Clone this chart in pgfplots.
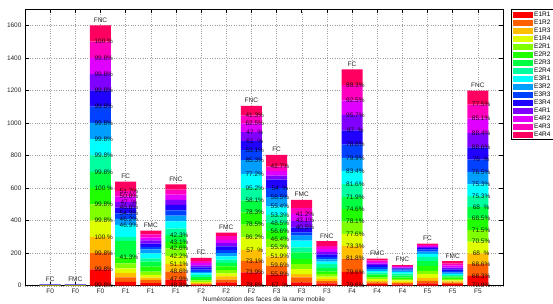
\documentclass[border=0pt]{standalone}
\usepackage{fontspec}
\setmainfont{Liberation Sans}
\usepackage{pgfplots}
\usepackage{pgfplotstable}
\pgfplotsset{compat=1.18}
\protected\def\NoL{}
\protected\def\PadS{\kern0.28em}
\definecolor{c1}{HTML}{FF0000}
\definecolor{c2}{HTML}{FF6000}
\definecolor{c3}{HTML}{FFBF00}
\definecolor{c4}{HTML}{DFFF00}
\definecolor{c5}{HTML}{80FF00}
\definecolor{c6}{HTML}{20FF00}
\definecolor{c7}{HTML}{00FF40}
\definecolor{c8}{HTML}{00FF9F}
\definecolor{c9}{HTML}{00FFFF}
\definecolor{c10}{HTML}{009FFF}
\definecolor{c11}{HTML}{0040FF}
\definecolor{c12}{HTML}{2000FF}
\definecolor{c13}{HTML}{8000FF}
\definecolor{c14}{HTML}{DF00FF}
\definecolor{c15}{HTML}{FF00BF}
\definecolor{c16}{HTML}{FF0060}

\pgfplotstableread{
x v1 v2 v3 v4 v5 v6 v7 v8 v9 v10 v11 v12 v13 v14 v15 v16 l1 l2 l3 l4 l5 l6 l7 l8 l9 l10 l11 l12 l13 l14 l15 l16 t
1 0.5 0.5 0.5 0.5 0.5 0.5 0.5 0.5 0.5 0.5 0.5 0.5 0.5 0.5 0.5 0.5 {\NoL} {\NoL} {\NoL} {\NoL} {\NoL} {\NoL} {\NoL} {\NoL} {\NoL} {\NoL} {\NoL} {\NoL} {\NoL} {\NoL} {\NoL} {\NoL} FC
2 0.5 0.5 0.5 0.5 0.5 0.5 0.5 0.5 0.5 0.5 0.5 0.5 0.5 0.5 0.5 0.5 {\NoL} {\NoL} {\NoL} {\NoL} {\NoL} {\NoL} {\NoL} {\NoL} {\NoL} {\NoL} {\NoL} {\NoL} {\NoL} {\NoL} {\NoL} {\NoL} FMC
3 100 100 100 100 100 100 100 100 100 100 100 100 100 100 100 100 99.8\% 99.8\% 99.8\% {100\PadS\%} 99.8\% 99.8\% {100\PadS\%} 99.8\% 99.8\% 99.8\% 99.8\% 99.8\% 99.8\% 99.8\% 99.8\% {100\PadS\%} FNC
4 24 27 28 27 31 37 102 24 73 37 35 35 33 35 35 57 {\NoL} {\NoL} {\NoL} {\NoL} {\NoL} {\NoL} 41.3\% {\NoL} {\NoL} 46.9\% 46.2\% 54.3\% 46.6\% {47\PadS\PadS\%} 50.8\% 51.7\% FC
5 16 20 14 16 20 31 31 20 31 24 16 20 20 16 20 24 {\NoL} {\NoL} {\NoL} {\NoL} {\NoL} {\NoL} {\NoL} {\NoL} {\NoL} {\NoL} {\NoL} {\NoL} {\NoL} {\NoL} {\NoL} {\NoL} FMC
6 38 48 48 49 46 40 41 40 45 35 33 33 32 32 30 32 48.8\% 47.9\% 48.6\% 51.1\% 42.2\% 42.6\% 43.1\% 42.3\% {\NoL} {\NoL} {\NoL} {\NoL} {\NoL} {\NoL} {\NoL} {\NoL} FNC
7 6 6 6 6 8 10 10 13 10 10 14 14 12 14 14 18 {\NoL} {\NoL} {\NoL} {\NoL} {\NoL} {\NoL} {\NoL} {\NoL} {\NoL} {\NoL} {\NoL} {\NoL} {\NoL} {\NoL} {\NoL} {\NoL} FC
8 20 18 20 18 20 22 22 20 20 20 20 22 20 20 22 22 {\NoL} {\NoL} {\NoL} {\NoL} {\NoL} {\NoL} {\NoL} {\NoL} {\NoL} {\NoL} {\NoL} {\NoL} {\NoL} {\NoL} {\NoL} {\NoL} FMC
9 82 70 68 77 79 75 71 78 87 84 64 53 56 52 51 58 78.8\% 73.9\% 73.1\% {57\PadS\PadS\%} 86.2\% 78.5\% 78.3\% 58.1\% 95.2\% 77.2\% 85.3\% 53.1\% {61\PadS\PadS\%} {47\PadS\PadS\%} 62.5\% 41.3\% FNC
10 70 54 56 56 51 48 51 49 51 58 56 51 25 28 28 72 {67\PadS\PadS\%} 55.8\% 59.6\% 51.9\% 55.3\% 46.4\% 56.6\% 48.5\% 53.3\% 55.4\% 58.5\% {54\PadS\PadS\%} {\NoL} {\NoL} {\NoL} 42.7\% FC
11 20 31 20 31 31 31 41 31 41 31 20 31 40 40 39 50 {\NoL} {\NoL} {\NoL} {\NoL} {\NoL} {\NoL} {\NoL} {\NoL} {\NoL} {\NoL} {\NoL} {\NoL} 40.5\% 43.1\% 41.2\% {\NoL} FMC
12 14 14 14 14 16 16 22 22 16 14 14 16 16 18 18 30 {\NoL} {\NoL} {\NoL} {\NoL} {\NoL} {\NoL} {\NoL} {\NoL} {\NoL} {\NoL} {\NoL} {\NoL} {\NoL} {\NoL} {\NoL} {\NoL} FNC
13 85 82 78 73 76 77 75 79 81 80 80 89 94 90 94 96 79.6\% 79.6\% 81.8\% 73.3\% 77.6\% 78.1\% 74.6\% 71.9\% 81.6\% 83.4\% 79.9\% 78.8\% {97\PadS\PadS\%} 95.7\% 92.5\% 88.3\% FC
14 10 10 10 10 10 10 10 10 10 12 12 12 10 10 10 10 {\NoL} {\NoL} {\NoL} {\NoL} {\NoL} {\NoL} {\NoL} {\NoL} {\NoL} {\NoL} {\NoL} {\NoL} {\NoL} {\NoL} {\NoL} {\NoL} FMC
15 8 8 8 8 8 10 12 12 10 8 8 6 5 5 5 6 {\NoL} {\NoL} {\NoL} {\NoL} {\NoL} {\NoL} {\NoL} {\NoL} {\NoL} {\NoL} {\NoL} {\NoL} {\NoL} {\NoL} {\NoL} {\NoL} FNC
16 14 16 18 23 20 30 30 26 18 14 12 10 8 6 6 8 {\NoL} {\NoL} {\NoL} {\NoL} {\NoL} {\NoL} {\NoL} {\NoL} {\NoL} {\NoL} {\NoL} {\NoL} {\NoL} {\NoL} {\NoL} {\NoL} FC
17 12 7 7 7 8 8 8 8 8 8 10 10 10 12 12 16 {\NoL} {\NoL} {\NoL} {\NoL} {\NoL} {\NoL} {\NoL} {\NoL} {\NoL} {\NoL} {\NoL} {\NoL} {\NoL} {\NoL} {\NoL} {\NoL} FMC
18 61 72 65 73 70 73 69 67 72 77 76 75 88 88 86 86 70.9\% 68.3\% 68.6\% {68\PadS\PadS\%} 70.5\% 71.5\% 68.5\% {68\PadS\PadS\%} 75.3\% 75.3\% 76.5\% {76\PadS\PadS\%} 88.6\% 88.4\% 85.1\% 77.5\% FNC
}\data

\pgfplotsset{
  myleg/.style={legend image code/.code={\fill[##1] (0pt,-2.9pt) rectangle (20pt,2.9pt);}},
  seg/.style n args={2}{fill=#1, draw=none, myleg,
    visualization depends on={\thisrow{#2}\as\hh}},
  frame/.style={at={(0,0)}, anchor=south west,
    scale only axis, width=478pt, height=276.7pt,
    xmin=0, xmax=19, ymin=0, ymax=1700},
}

\begin{document}
\begin{tikzpicture}
\begin{axis}[
  frame,
  ybar stacked, bar width=21pt,
  xtick={1,...,18},
  xticklabels={F0,F0,F0,F1,F1,F1,F2,F2,F2,F3,F3,F3,F4,F4,F4,F5,F5,F5},
  ytick={0,200,...,1600},
  tick align=inside, major tick length=4pt, tick pos=both,
  grid=major, major grid style={dotted, gray!75},
  axis line style={line width=0.8pt},
  tick style={black, line width=0.5pt},
  ticklabel style={font=\fontsize{6.5}{7}\selectfont, text=black!85},
  /pgf/number format/assume math mode=true,
  /pgf/number format/1000 sep={},
  xlabel={Numérotation des faces de la rame mobile},
  xlabel style={font=\fontsize{6.5}{7}\selectfont, text=black!85, yshift=4pt},
  point meta=explicit symbolic,
  nodes near coords,
  nodes near coords style={font=\fontsize{6.5}{6.5}\selectfont, anchor=center,
    yshift=-\hh*0.08138pt, xshift=3.3pt, inner sep=0pt, text=black, text opacity=0.85},
  legend style={at={(1,1)}, anchor=north west, xshift=8pt, yshift=-0.3pt,
    font=\fontsize{6.5}{7}\selectfont, draw=black, line width=0.8pt,
    inner xsep=2pt, inner ysep=1pt, cells={anchor=west}, row sep=0pt,
    nodes={inner sep=0.8pt, text height=4.8pt, text depth=1.6pt}},
]
\addplot[seg={c1}{v1}] table[x=x, y=v1, meta=l1] {\data};
\addplot[seg={c2}{v2}] table[x=x, y=v2, meta=l2] {\data};
\addplot[seg={c3}{v3}] table[x=x, y=v3, meta=l3] {\data};
\addplot[seg={c4}{v4}] table[x=x, y=v4, meta=l4] {\data};
\addplot[seg={c5}{v5}] table[x=x, y=v5, meta=l5] {\data};
\addplot[seg={c6}{v6}] table[x=x, y=v6, meta=l6] {\data};
\addplot[seg={c7}{v7}] table[x=x, y=v7, meta=l7] {\data};
\addplot[seg={c8}{v8}] table[x=x, y=v8, meta=l8] {\data};
\addplot[seg={c9}{v9}] table[x=x, y=v9, meta=l9] {\data};
\addplot[seg={c10}{v10}] table[x=x, y=v10, meta=l10] {\data};
\addplot[seg={c11}{v11}] table[x=x, y=v11, meta=l11] {\data};
\addplot[seg={c12}{v12}] table[x=x, y=v12, meta=l12] {\data};
\addplot[seg={c13}{v13}] table[x=x, y=v13, meta=l13] {\data};
\addplot[seg={c14}{v14}] table[x=x, y=v14, meta=l14] {\data};
\addplot[seg={c15}{v15}] table[x=x, y=v15, meta=l15] {\data};
\addplot[seg={c16}{v16}] table[x=x, y=v16, meta=l16] {\data};
\legend{E1R1,E1R2,E1R3,E1R4,E2R1,E2R2,E2R3,E2R4,E3R1,E3R2,E3R3,E3R4,E4R1,E4R2,E4R3,E4R4}
\end{axis}
\begin{axis}[frame, hide axis, point meta=explicit symbolic,
  nodes near coords,
  nodes near coords style={anchor=south, inner sep=1pt, yshift=1.8pt,
    font=\fontsize{6.5}{7}\selectfont, text=black!85}]
\addplot[draw=none, mark=none]
  table[x=x, y expr={\thisrow{v1}+\thisrow{v2}+\thisrow{v3}+\thisrow{v4}+\thisrow{v5}+\thisrow{v6}+\thisrow{v7}+\thisrow{v8}+\thisrow{v9}+\thisrow{v10}+\thisrow{v11}+\thisrow{v12}+\thisrow{v13}+\thisrow{v14}+\thisrow{v15}+\thisrow{v16}}, meta=t] {\data};
\end{axis}
\pgfresetboundingbox
\path[use as bounding box] (-25pt,-17.3pt) rectangle (528pt,285.7pt);
\end{tikzpicture}
\end{document}
